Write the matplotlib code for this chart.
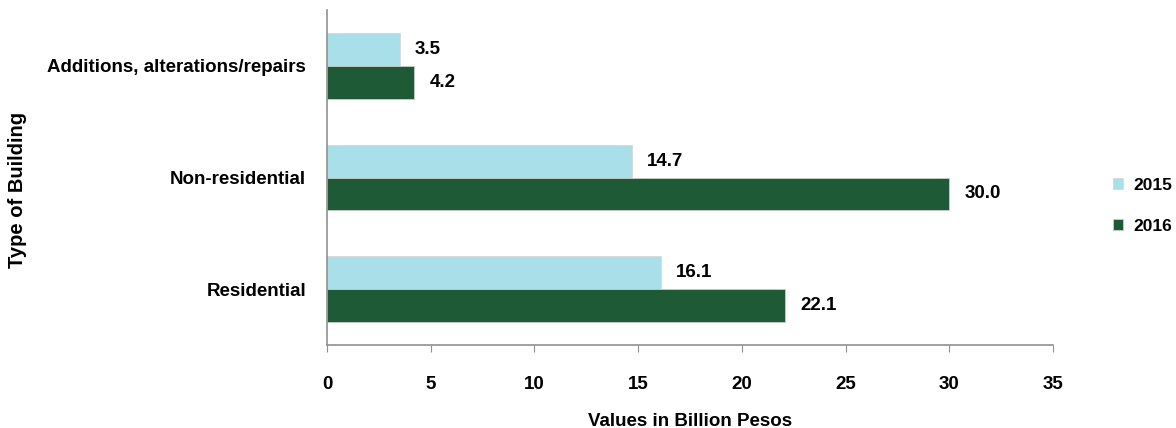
import matplotlib
matplotlib.use("Agg")
import matplotlib.pyplot as plt
import numpy as np

categories = ["Residential", "Non-residential", "Additions, alterations/repairs"]
values_2015 = [16.1, 14.7, 3.5]
values_2016 = [22.1, 30.0, 4.2]
series_labels = ["2015", "2016"]
xticks = [0, 5, 10, 15, 20, 25, 30, 35]

plt.rcParams['font.family'] = ['Liberation Sans', 'DejaVu Sans']
FS = 13.5

fig = plt.figure(figsize=(11.76, 4.28), dpi=100)
ax = fig.add_axes([327/1176, 1-345/428, (1053-327)/1176, (345-10)/428])

y = np.arange(len(categories))
h = 0.295
c15 = "#a9dfe8"
c16 = "#1e5a36"
b1 = ax.barh(y + h/2, values_2015, height=h, color=c15, edgecolor="#d8d8d8", linewidth=0.6, label=series_labels[0])
b2 = ax.barh(y - h/2, values_2016, height=h, color=c16, edgecolor="#c8d0c8", linewidth=0.6, label=series_labels[1])

for bars, vals in ((b1, values_2015), (b2, values_2016)):
    for r, v in zip(bars, vals):
        ax.annotate(f"{v:.1f}", (v, r.get_y() + r.get_height()/2), xytext=(11, 0),
                    textcoords="offset points", ha="left", va="center",
                    fontsize=FS, fontweight="bold")

ax.set_xlim(0, 35)
ax.set_ylim(-0.5, 2.5)
ax.set_xticks(xticks)
ax.set_yticks(y)
ax.set_yticklabels(categories, fontsize=FS, fontweight="bold")
ax.tick_params(axis="x", length=5, color="#909090", pad=17.5, labelsize=FS)
for lab in ax.get_xticklabels():
    lab.set_fontweight("bold")
ax.tick_params(axis="y", length=0, pad=15)
for s in ["top", "right"]:
    ax.spines[s].set_visible(False)
for s in ["left", "bottom"]:
    ax.spines[s].set_color("#909090")
    ax.spines[s].set_linewidth(1.2)

ax.set_xlabel("Values in Billion Pesos", fontsize=FS, fontweight="bold", labelpad=14)
fig.text(18/1176, 1-190/428, "Type of Building", rotation=90, ha="center", va="center",
         fontsize=FS + 1, fontweight="bold")

leg = fig.legend(handles=[b1, b2], labels=series_labels, loc="center left",
                 bbox_to_anchor=(1113/1176, 1-206/428), frameon=False,
                 borderaxespad=0, borderpad=0,
                 handlelength=0.6, handleheight=0.6, handletextpad=0.6,
                 labelspacing=1.5, prop={"weight": "bold", "size": 12.5})

fig.savefig("out.png", dpi=100)
